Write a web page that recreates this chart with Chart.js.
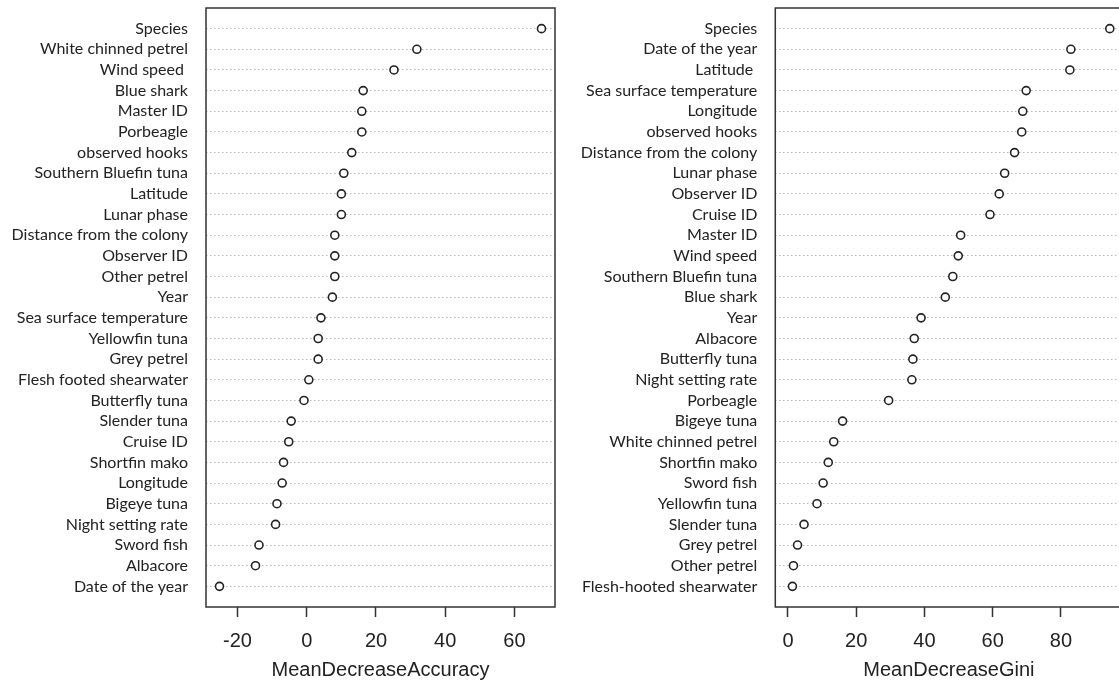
<!DOCTYPE html>
<html>
<head>
<meta charset="utf-8">
<script src="https://cdn.jsdelivr.net/npm/chart.js@4/dist/chart.umd.min.js"></script>
<style>
  html, body { margin: 0; padding: 0; background: #fff; overflow: hidden; }
  .panel { position: absolute; top: 0; height: 686px; }
  #leftBox { left: 0; width: 570px; }
  #rightBox { left: 570px; width: 560px; }
</style>
</head>
<body>
<div class="panel" id="leftBox"><canvas id="leftChart"></canvas></div>
<div class="panel" id="rightBox"><canvas id="rightChart"></canvas></div>
<script>
// Variable importance (random forest) - two dot charts

const accLabels = ['Species', 'White chinned petrel', 'Wind speed ', 'Blue shark', 'Master ID', 'Porbeagle',
  'observed hooks', 'Southern Bluefin tuna', 'Latitude', 'Lunar phase', 'Distance from the colony',
  'Observer ID', 'Other petrel', 'Year', 'Sea surface temperature', 'Yellowfin tuna', 'Grey petrel',
  'Flesh footed shearwater', 'Butterfly tuna', 'Slender tuna', 'Cruise ID', 'Shortfin mako', 'Longitude',
  'Bigeye tuna', 'Night setting rate', 'Sword fish', 'Albacore', 'Date of the year'];
const accValues = [67.8, 31.8, 25.2, 16.3, 15.9, 15.9, 13.0, 10.7, 10.0, 10.0, 8.1, 8.1, 8.1, 7.4,
  4.1, 3.3, 3.3, 0.6, -0.8, -4.5, -5.2, -6.7, -7.1, -8.6, -9.0, -13.8, -14.8, -25.2];
const accTicks = [-20, 0, 20, 40, 60];

const giniLabels = ['Species', 'Date of the year', 'Latitude ', 'Sea surface temperature', 'Longitude',
  'observed hooks', 'Distance from the colony', 'Lunar phase', 'Observer ID', 'Cruise ID', 'Master ID',
  'Wind speed', 'Southern Bluefin tuna', 'Blue shark', 'Year', 'Albacore', 'Butterfly tuna',
  'Night setting rate', 'Porbeagle', 'Bigeye tuna', 'White chinned petrel', 'Shortfin mako', 'Sword fish',
  'Yellowfin tuna', 'Slender tuna', 'Grey petrel', 'Other petrel', 'Flesh-hooted shearwater'];
const giniValues = [94.3, 82.9, 82.6, 69.8, 68.8, 68.5, 66.4, 63.5, 61.9, 59.2, 50.6, 49.9, 48.3, 46.1,
  39.0, 37.0, 36.6, 36.3, 29.5, 16.0, 13.4, 11.8, 10.3, 8.5, 4.7, 2.8, 1.6, 1.3];
const giniTicks = [0, 20, 40, 60, 80];

// draws the R-style box round the plot region
const boxPlugin = {
  id: 'box',
  afterDatasetsDraw(chart) {
    const { ctx, chartArea: a } = chart;
    ctx.save();
    ctx.strokeStyle = '#333';
    ctx.lineWidth = 1.5;
    ctx.strokeRect(a.left, a.top, a.right - a.left, a.bottom - a.top);
    ctx.restore();
  }
};

function dotChart(id, labels, values, tickVals, title, opt) {
  const n = labels.length;
  return new Chart(document.getElementById(id), {
    type: 'scatter',
    data: {
      datasets: [{
        data: values.map((v, i) => ({ x: v, y: i + 1 })),
        pointStyle: 'circle',
        pointRadius: 4,
        pointBorderWidth: 1.6,
        pointBorderColor: '#222',
        pointBackgroundColor: '#fff',
      }],
    },
    options: {
      responsive: true,
      maintainAspectRatio: false,
      animation: false,
      layout: { padding: { top: 8, right: opt.padRight, bottom: 0, left: 0 } },
      plugins: { legend: { display: false }, tooltip: { enabled: false } },
      scales: {
        x: {
          type: 'linear',
          min: opt.min,
          max: opt.max,
          afterBuildTicks: s => { s.ticks = tickVals.map(v => ({ value: v })); },
          afterFit: s => { s.height = 79; },
          grid: { drawOnChartArea: false, drawTicks: true, tickLength: 10, tickColor: '#333', tickWidth: 1.5 },
          border: { display: false },
          ticks: { padding: 12, color: '#222', font: { family: 'Liberation Sans', size: 20 } },
          title: {
            display: true, text: title, color: '#222',
            font: { family: 'Liberation Sans', size: 20 },
            padding: { top: 0, bottom: 4 },
          },
        },
        y: {
          type: 'linear',
          reverse: true,
          min: 0,
          max: n + 1,
          afterBuildTicks: s => { s.ticks = labels.map((l, i) => ({ value: i + 1 })); },
          afterFit: s => { s.width = opt.yWidth; s.paddingTop = 0; s.paddingBottom = 0; },
          grid: { drawTicks: false, color: '#b8b8b8', lineWidth: 1 },
          border: { display: false, dash: [1.5, 2.5] },
          ticks: {
            autoSkip: false,
            padding: 18,
            color: '#222',
            font: { family: 'Lato', size: 16 },
            callback: v => labels[v - 1],
          },
        },
      },
    },
    plugins: [boxPlugin],
  });
}

dotChart('leftChart', accLabels, accValues, accTicks, 'MeanDecreaseAccuracy',
  { min: -29.1, max: 71.7, yWidth: 206, padRight: 15 });
dotChart('rightChart', giniLabels, giniValues, giniTicks, 'MeanDecreaseGini',
  { min: -3.72, max: 98.0, yWidth: 205.3, padRight: 7.6 });
</script>
</body>
</html>
